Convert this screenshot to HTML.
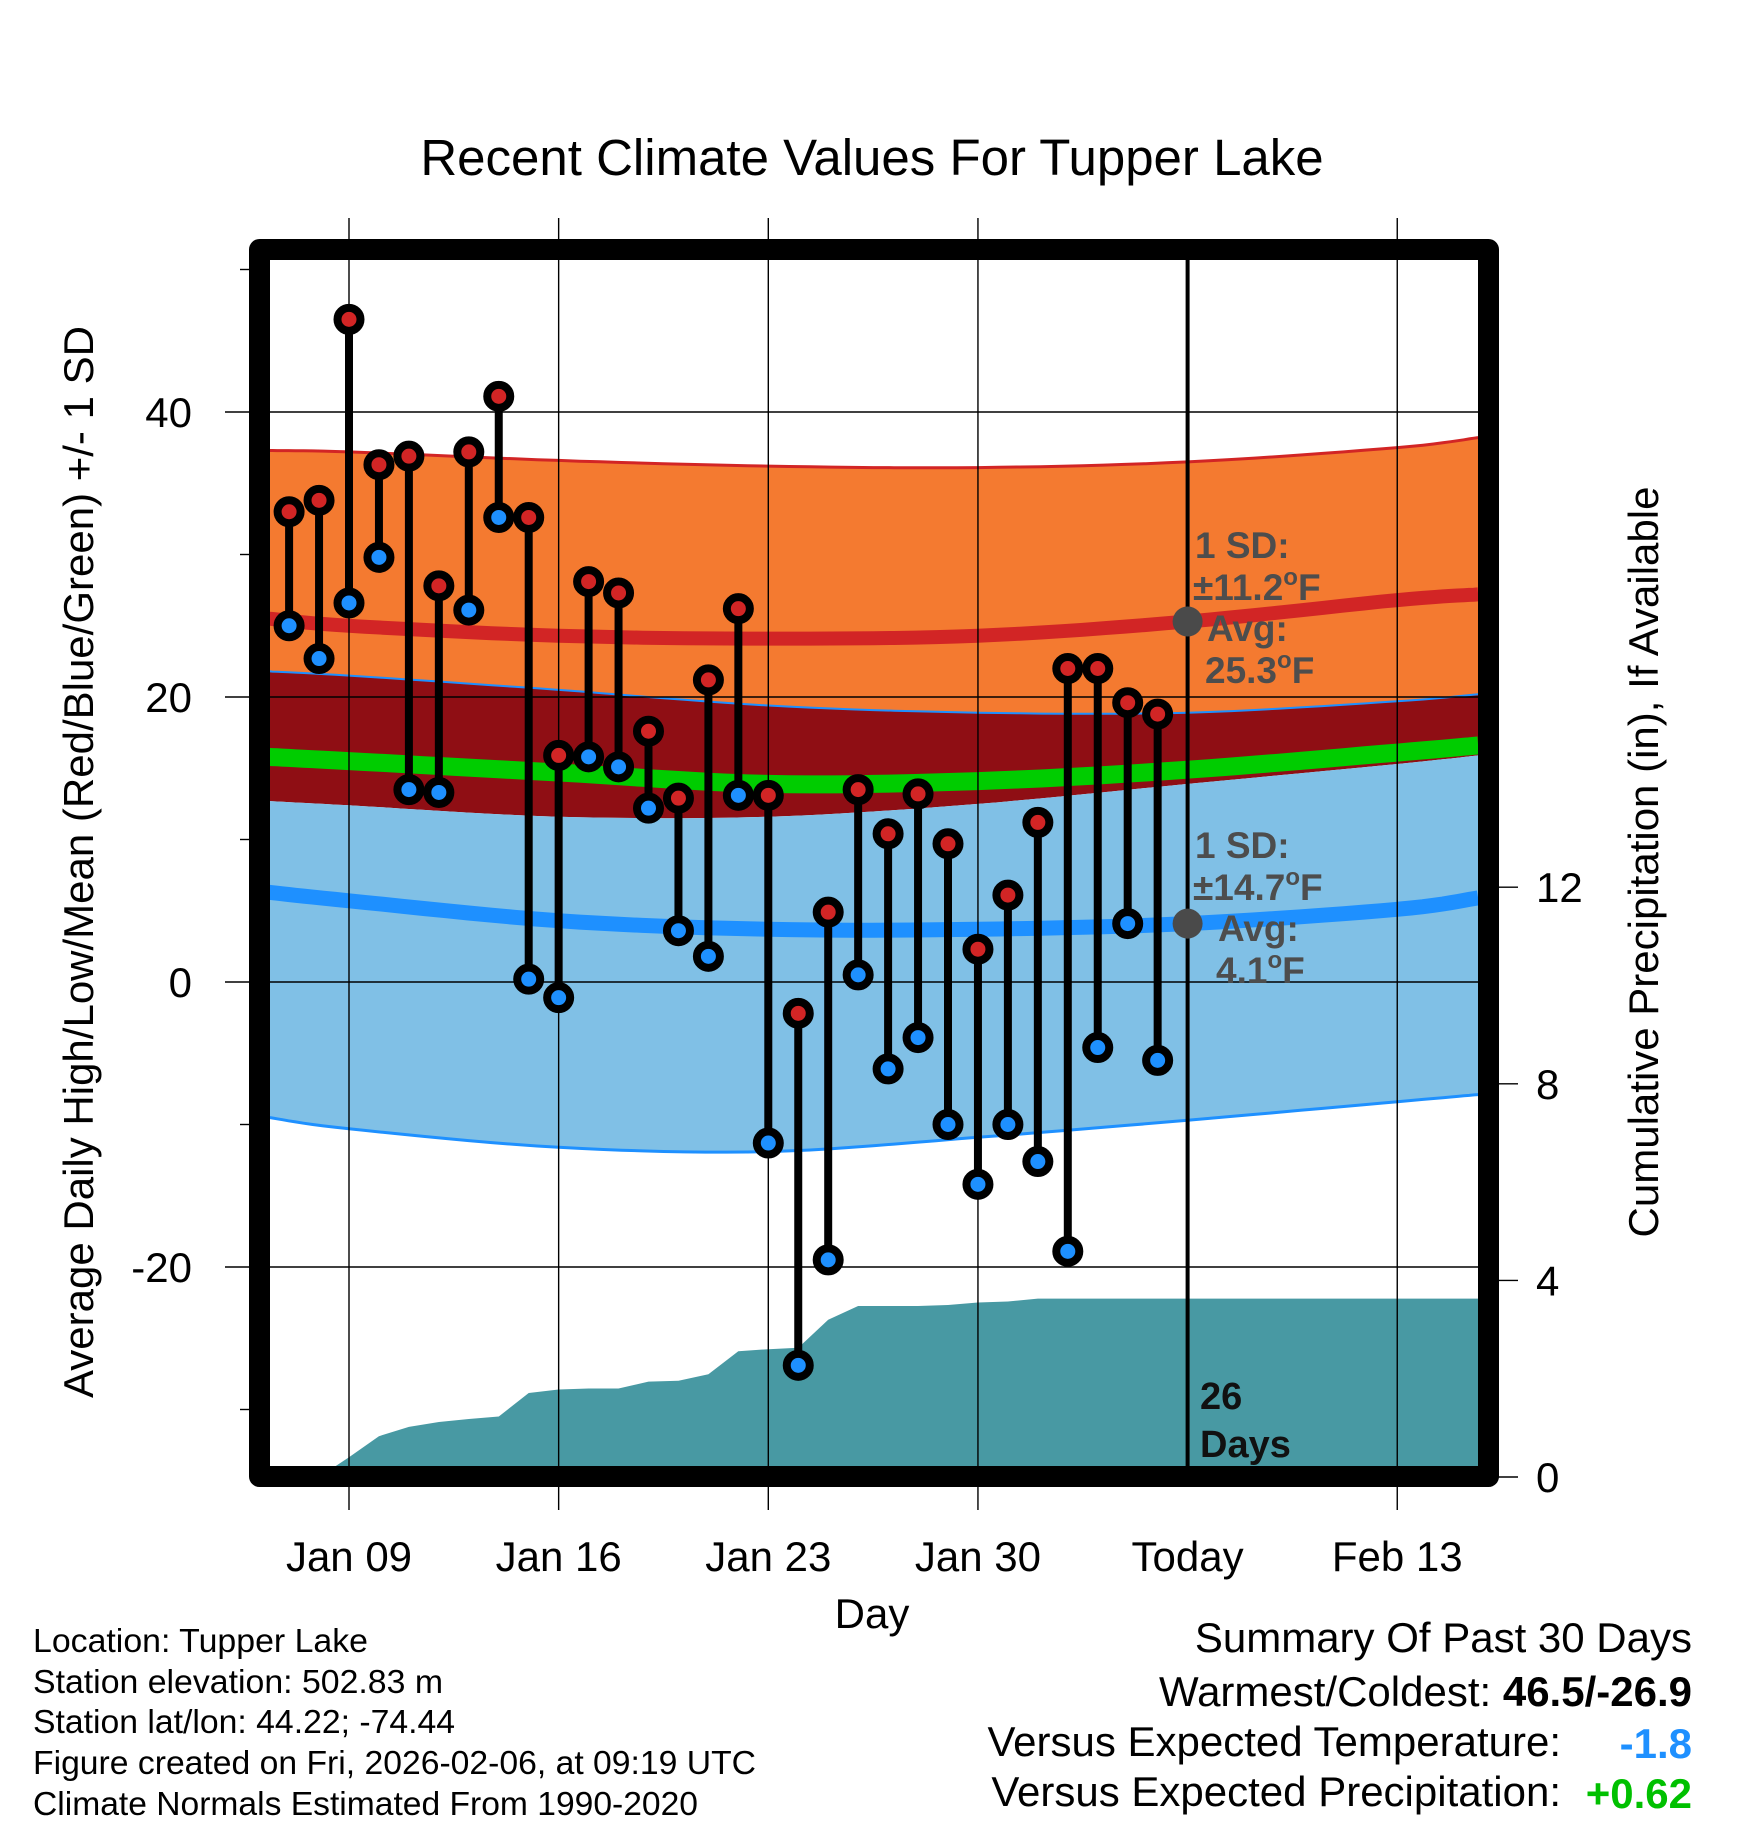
<!DOCTYPE html>
<html><head><meta charset="utf-8"><style>
html,body{margin:0;padding:0;background:#fff;}
svg{display:block;font-family:"Liberation Sans",Arial,sans-serif;}
</style></head><body>
<svg id="chart" width="1748" height="1828" viewBox="0 0 1748 1828" xmlns="http://www.w3.org/2000/svg">
<defs><clipPath id="plotclip"><rect x="270" y="260" width="1208" height="1206"/></clipPath></defs>
<rect width="1748" height="1828" fill="#fff"/>
<text x="872" y="175" font-size="51" text-anchor="middle">Recent Climate Values For Tupper Lake</text>
<g id="plot" clip-path="url(#plotclip)"></g>
<g id="axes"></g>
<text transform="translate(93,862) rotate(-90)" font-size="42" text-anchor="middle">Average Daily High/Low/Mean (Red/Blue/Green) +/- 1 SD</text>
<text transform="translate(1658,862) rotate(-90)" font-size="42" text-anchor="middle">Cumulative Precipitation (in), If Available</text>
<text x="872" y="1628" font-size="42" text-anchor="middle">Day</text>
<g font-size="33">
<text x="33" y="1652" textLength="335" lengthAdjust="spacingAndGlyphs">Location: Tupper Lake</text>
<text x="33" y="1693" textLength="410" lengthAdjust="spacingAndGlyphs">Station elevation: 502.83 m</text>
<text x="33" y="1733" textLength="422" lengthAdjust="spacingAndGlyphs">Station lat/lon: 44.22; -74.44</text>
<text x="33" y="1774" textLength="723" lengthAdjust="spacingAndGlyphs">Figure created on Fri, 2026-02-06, at 09:19 UTC</text>
<text x="33" y="1815" textLength="665" lengthAdjust="spacingAndGlyphs">Climate Normals Estimated From 1990-2020</text>
</g>
<g font-size="42" text-anchor="end">
<text x="1692" y="1652">Summary Of Past 30 Days</text>
<text x="1692" y="1706">Warmest/Coldest: <tspan font-weight="bold">46.5/-26.9</tspan></text>
<text x="1561" y="1756">Versus Expected Temperature:</text>
<text x="1692" y="1758" font-weight="bold" fill="#1E90FF">-1.8</text>
<text x="1561" y="1806">Versus Expected Precipitation:</text>
<text x="1692" y="1808" font-weight="bold" fill="#00C000">+0.62</text>
</g>
</svg>
<script>
// ---- data ----
const days = ["Jan 07","Jan 08","Jan 09","Jan 10","Jan 11","Jan 12","Jan 13","Jan 14","Jan 15","Jan 16","Jan 17","Jan 18","Jan 19","Jan 20","Jan 21","Jan 22","Jan 23","Jan 24","Jan 25","Jan 26","Jan 27","Jan 28","Jan 29","Jan 30","Jan 31","Feb 01","Feb 02","Feb 03","Feb 04","Feb 05"];
const dayOffsets = [-2,-1,0,1,2,3,4,5,6,7,8,9,10,11,12,13,14,15,16,17,18,19,20,21,22,23,24,25,26,27];
const highs = [33.0,33.8,46.5,36.3,36.9,27.8,37.2,41.1,32.6,15.9,28.1,27.3,17.6,12.9,21.2,26.2,13.1,-2.2,4.9,13.5,10.4,13.2,9.7,2.3,6.1,11.2,22.0,22.0,19.6,18.8];
const lows = [25.0,22.7,26.6,29.8,13.5,13.3,26.1,32.6,0.2,-1.1,15.8,15.1,12.2,3.6,1.8,13.1,-11.3,-26.9,-19.5,0.5,-6.1,-3.9,-10.0,-14.2,-10.0,-12.6,-18.9,-4.6,4.1,-5.5];
const precipCum = [0,0,0.4,0.83,1.02,1.12,1.18,1.23,1.71,1.78,1.8,1.8,1.94,1.96,2.09,2.56,2.6,2.63,3.2,3.48,3.48,3.48,3.5,3.55,3.57,3.63,3.63,3.63,3.63,3.63];
const normDays = [-2.7,0,7,14,21,28,35,37.7];
const highUpper = [37.3,37.2,36.6,36.2,36.1,36.5,37.5,38.2];
const highMean = [25.5,25.0,24.3,24.1,24.3,25.3,26.8,27.2];
const lowUpper = [21.8,21.5,20.5,19.4,18.9,18.9,19.7,20.2];
const normMean = [15.8,15.5,14.7,13.9,14.1,14.9,16.1,16.6];
const highLower = [12.7,12.4,11.6,11.6,12.5,13.9,15.3,15.9];
const lowMean = [6.3,5.7,4.3,3.7,3.7,4.1,5.1,5.9];
const lowLower = [-9.5,-10.3,-11.6,-11.9,-10.9,-9.7,-8.4,-7.9];
const xTickOffsets = [0,7,14,21,28,35];
const xTickLabels = ["Jan 09","Jan 16","Jan 23","Jan 30","Today","Feb 13"];
const yTicks = [40,20,0,-20];
const yMinorTicks = [50,30,10,-10,-30];
const y2Ticks = [0,4,8,12];
const todayOffset = 28;

// ---- scales ----
const NS="http://www.w3.org/2000/svg";
const X = d => 349 + 29.95*d;
const Y = t => 982 - 14.25*t;
const YP = p => 1477 - 49.15*p;
function mk(tag, attrs, parent){const e=document.createElementNS(NS,tag);for(const k in attrs)e.setAttribute(k,attrs[k]);parent.appendChild(e);return e;}
const plot=document.getElementById('plot'), axes=document.getElementById('axes');
function curvePts(arr){const pts=[];for(let i=0;i<normDays.length;i++)pts.push([X(normDays[i]),Y(arr[i])]);return pts;}
function smooth(pts){
  const out=[];for(let i=0;i<pts.length-1;i++){const p0=pts[Math.max(0,i-1)],p1=pts[i],p2=pts[i+1],p3=pts[Math.min(pts.length-1,i+2)];
  for(let s=0;s<10;s++){const t=s/10,t2=t*t,t3=t2*t;const f=(a,b,c,d)=>0.5*((2*b)+(-a+c)*t+(2*a-5*b+4*c-d)*t2+(-a+3*b-3*c+d)*t3);out.push([f(p0[0],p1[0],p2[0],p3[0]),f(p0[1],p1[1],p2[1],p3[1])]);}}
  out.push(pts[pts.length-1]);return out;}
const ps = a => a.map(p=>p[0].toFixed(1)+','+p[1].toFixed(1)).join(' ');
function band(top,bot,fill,name){const a=smooth(curvePts(top)),b=smooth(curvePts(bot)).reverse();const e=mk('polygon',{points:ps(a.concat(b)),fill:fill},plot);

}
function line(arr,color,w,name){const e=mk('polyline',{points:ps(smooth(curvePts(arr))),fill:'none',stroke:color,'stroke-width':w},plot);

}
band(highUpper,lowUpper,'#F47A30','high-sd-band');
band(lowUpper,highLower,'#8F0E14','overlap-band');
band(highLower,lowLower,'#80C0E6','low-sd-band');
line(highUpper,'#D22525',3,'high-upper-edge');
line(lowUpper,'#1E90FF',2,'low-upper-edge');
line(lowLower,'#1E90FF',3,'low-lower-edge');
line(highMean,'#D22525',14,'high-mean-line');
line(lowMean,'#1E90FF',15,'low-mean-line');
line(normMean,'#00CC00',18,'mean-line');
{const pts=[[X(dayOffsets[0]),YP(0)]];for(let i=0;i<precipCum.length;i++)pts.push([X(dayOffsets[i]),YP(precipCum[i])]);
pts.push([1480,YP(precipCum[precipCum.length-1])]);pts.push([1480,1480]);pts.push([X(dayOffsets[0]),1480]);
const e=mk('polygon',{points:ps(pts),fill:'#4899A3'},plot);

}
xTickOffsets.forEach((d,i)=>{if(d===todayOffset)return;const e=mk('line',{x1:X(d),x2:X(d),y1:218,y2:1510,stroke:'#000','stroke-width':1.4},axes);

});
yTicks.forEach(t=>{const e=mk('line',{x1:225,x2:1478,y1:Y(t),y2:Y(t),stroke:'#000','stroke-width':1.4},axes);


const l=mk('text',{x:192,y:Y(t)+15,'font-size':42,'text-anchor':'end'},axes);l.textContent=t;

});
yMinorTicks.forEach(t=>{const e=mk('line',{x1:240,x2:252,y1:Y(t),y2:Y(t),stroke:'#000','stroke-width':1.4},axes);

});
y2Ticks.forEach(p=>{const e=mk('line',{x1:1490,x2:1518,y1:YP(p),y2:YP(p),stroke:'#000','stroke-width':1.4},axes);


const l=mk('text',{x:1536,y:YP(p)+15,'font-size':42},axes);l.textContent=p;

});
xTickOffsets.forEach((d,i)=>{const l=mk('text',{x:X(d),y:1571,'font-size':42,'text-anchor':'middle'},axes);l.textContent=xTickLabels[i];

});
for(let i=0;i<highs.length;i++){const x=X(dayOffsets[i]);
const s=mk('line',{x1:x,x2:x,y1:Y(highs[i]),y2:Y(lows[i]),stroke:'#000','stroke-width':8},axes);

}
for(let i=0;i<highs.length;i++){const x=X(dayOffsets[i]);
const h=mk('circle',{cx:x,cy:Y(highs[i]),r:11.5,fill:'#D22525',stroke:'#000','stroke-width':8},axes);


const l=mk('circle',{cx:x,cy:Y(lows[i]),r:11.5,fill:'#1E90FF',stroke:'#000','stroke-width':8},axes);

}
{const e=mk('line',{x1:X(todayOffset),x2:X(todayOffset),y1:255,y2:1470,stroke:'#000','stroke-width':4},axes);

}
function txt(x,y,s,fill,size,name){const e=mk('text',{x:x,y:y,'font-size':size,'font-weight':'bold',fill:fill},axes);e.innerHTML=s;

}
const tx=X(todayOffset);
const d1=mk('circle',{cx:tx,cy:Y(highMean[5]),r:15,fill:'#4a4a4a'},axes);


const d2=mk('circle',{cx:tx,cy:Y(lowMean[5]),r:15,fill:'#4a4a4a'},axes);


const deg='<tspan font-size="24" dy="-15">o</tspan><tspan dy="15">F</tspan>';
txt(1195,558,'1 SD:','#4d4d4d',37,'high-sd-label');
txt(1193,600,'±11.2'+deg,'#4d4d4d',37,'high-sd-value');
txt(1207,641,'Avg:','#4d4d4d',37,'high-avg-label');
txt(1205,683,'25.3'+deg,'#4d4d4d',37,'high-avg-value');
txt(1195,858,'1 SD:','#4d4d4d',37,'low-sd-label');
txt(1193,900,'±14.7'+deg,'#4d4d4d',37,'low-sd-value');
txt(1218,941,'Avg:','#4d4d4d',37,'low-avg-label');
txt(1216,983,'4.1'+deg,'#4d4d4d',37,'low-avg-value');
txt(1200,1409,'26','#111',38,'days-count');
txt(1200,1457,'Days','#111',38,'days-label');
{const e=mk('rect',{x:259.5,y:249.5,width:1229,height:1227,fill:'none',stroke:'#000','stroke-width':21,'stroke-linejoin':'round'},axes);

}
</script>
</body></html>
